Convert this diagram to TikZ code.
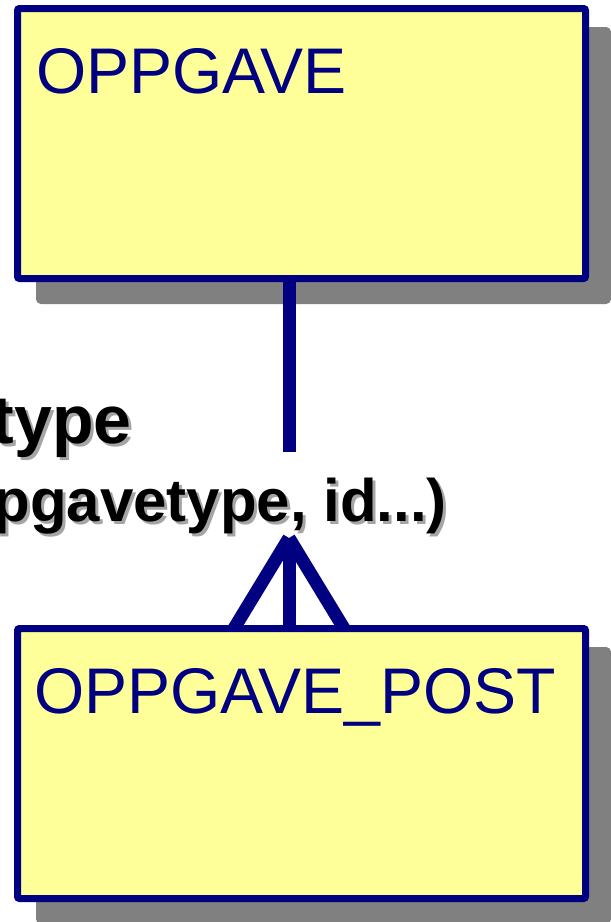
\documentclass[tikz,border=0pt]{standalone}
\usepackage{fontspec}
\setmainfont{Liberation Sans}
\usetikzlibrary{shadows}
\definecolor{entnavy}{RGB}{0,0,128}
\definecolor{entfill}{RGB}{255,255,153}
\definecolor{entshadow}{RGB}{128,128,128}
\definecolor{txtshadow}{RGB}{165,165,165}
\begin{document}
\begin{tikzpicture}[
        x=1pt, y=-1pt,
        entity/.style={rectangle, draw=entnavy, line width=7pt, fill=entfill, rounded corners=2pt, minimum width=568pt, minimum height=270pt, inner sep=0pt, drop shadow={shadow xshift=22pt, shadow yshift=-22pt, fill=entshadow, draw=entshadow, line width=7pt, opacity=1}},
        entity_name/.style={anchor=base west, inner sep=0pt, text=entnavy, font=\fontsize{64.5}{70}\selectfont},
        rel/.style={draw=entnavy, line width=13pt},
        rel_label/.style={anchor=base east, inner sep=0pt, font=\bfseries\fontsize{#1}{#1}\selectfont}
    ]
        \useasboundingbox (0,0) rectangle (611,922);

        % Entities
        \node[entity] (oppgave) at (301.5,143.5) {};
        \node[entity_name] (oppgave_name) at (36,93) {OPPGAVE};
        \node[entity] (oppgave_post) at (301.5,763.5) {};
        \node[entity_name] (oppgave_post_name) at (34,713) {OPPGAVE\_POST};

        % Relationship: one side
        \coordinate (one_end) at (289,452);
        \draw[rel] (one_end |- oppgave.south) -- (one_end);

        % Relationship: many side (crow's foot)
        \coordinate (crow_tip) at (289,538);
        \coordinate (crow_left) at (234,628.5);
        \coordinate (crow_right) at (344,628.5);
        \draw[rel] (crow_tip) -- (crow_tip |- oppgave_post.north);
        \draw[rel] (crow_tip) -- (crow_left);
        \draw[rel] (crow_tip) -- (crow_right);

        % Labels
        \node[rel_label=68, text=txtshadow] (rel_name_shadow) at (135,446) {type};
        \node[rel_label=68] (rel_name) at (132,443) {type};
        \node[rel_label=60, text=txtshadow] (rel_keys_shadow) at (450,524) {pgavetype, id...)};
        \node[rel_label=60] (rel_keys) at (447,521) {pgavetype, id...)};

    \end{tikzpicture}
\end{document}
